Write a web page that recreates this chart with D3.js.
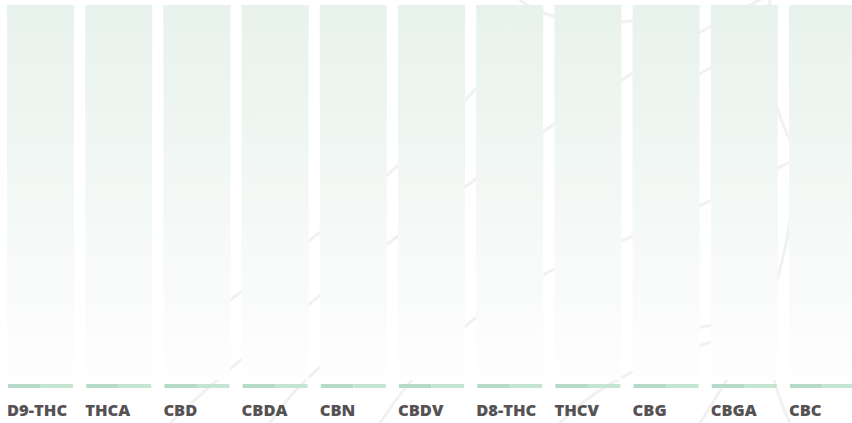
<!DOCTYPE html>
<html>
<head>
<meta charset="utf-8">
<script src="https://cdn.jsdelivr.net/npm/d3@7"></script>
<style>
  html, body { margin: 0; padding: 0; background: #fff; }
  svg { display: block; }
</style>
</head>
<body>
<div id="chart"></div>
<script>
// cannabinoid columns, all readings empty in this view
var categories = ["D9-THC", "THCA", "CBD", "CBDA", "CBN", "CBDV", "D8-THC", "THCV", "CBG", "CBGA", "CBC"];
var values = [0, 0, 0, 0, 0, 0, 0, 0, 0, 0, 0];
var maxValue = 100;

var width = 852, height = 423;
var colTop = 5, colBase = 380;

var svg = d3.select("#chart").append("svg")
    .attr("width", width)
    .attr("height", height);

var defs = svg.append("defs");
var grad = defs.append("linearGradient")
    .attr("id", "colFade")
    .attr("x1", 0).attr("y1", 0).attr("x2", 0).attr("y2", 1);
grad.append("stop").attr("offset", "0%").attr("stop-color", "#e8f2ec");
grad.append("stop").attr("offset", "100%").attr("stop-color", "#fefefe");

// faint leaf outline in the back
var deco = svg.append("g")
    .attr("fill", "none")
    .attr("stroke", "#f1f1f1")
    .attr("stroke-width", 3)
    .attr("stroke-linecap", "round");
var leaf = [
    "M170,423 Q300,300 560,120 Q680,40 760,0",
    "M230,300 Q400,180 520,40",
    "M380,423 Q460,300 600,250 Q720,200 852,130",
    "M560,423 Q620,360 760,330",
    "M770,0 Q760,80 790,140 Q800,220 770,300 Q760,360 790,423",
    "M690,80 Q720,60 752,50",
    "M690,330 Q720,320 752,330",
    "M520,0 Q560,30 640,20",
    "M270,423 Q300,380 330,360",
    "M700,423 Q720,390 740,360"
];
deco.selectAll("path")
    .data(leaf)
    .enter()
    .append("path")
    .attr("d", function(d) { return d; });

var x = d3.scaleBand()
    .domain(categories)
    .range([7, 856])
    .paddingInner(0.143)
    .paddingOuter(0);

var y = d3.scaleLinear()
    .domain([0, maxValue])
    .range([colBase, colTop]);

var cols = svg.append("g").selectAll("g")
    .data(categories)
    .enter()
    .append("g")
    .attr("transform", function(d) { return "translate(" + x(d) + ",0)"; });

// column track
cols.append("rect")
    .attr("y", y(maxValue))
    .attr("width", x.bandwidth())
    .attr("height", y(0) - y(maxValue))
    .attr("fill", "url(#colFade)");

// value bars (empty)
cols.append("rect")
    .attr("y", function(d, i) { return y(values[i]); })
    .attr("width", x.bandwidth())
    .attr("height", function(d, i) { return y(0) - y(values[i]); })
    .attr("fill", "#9fd0b4");

// two tone base line
cols.append("rect")
    .attr("x", 1)
    .attr("y", 384)
    .attr("width", (x.bandwidth() - 2) / 2)
    .attr("height", 4)
    .attr("fill", "#b6dac8");
cols.append("rect")
    .attr("x", 1 + (x.bandwidth() - 2) / 2)
    .attr("y", 384)
    .attr("width", (x.bandwidth() - 2) / 2)
    .attr("height", 4)
    .attr("fill", "#c3e5d1");

cols.append("text")
    .attr("x", 0)
    .attr("y", 416)
    .attr("font-family", "'Open Sans', sans-serif")
    .attr("font-weight", 800)
    .attr("font-size", "16.5px")
    .attr("fill", "#565254")
    .text(function(d) { return d; });
</script>
</body>
</html>
